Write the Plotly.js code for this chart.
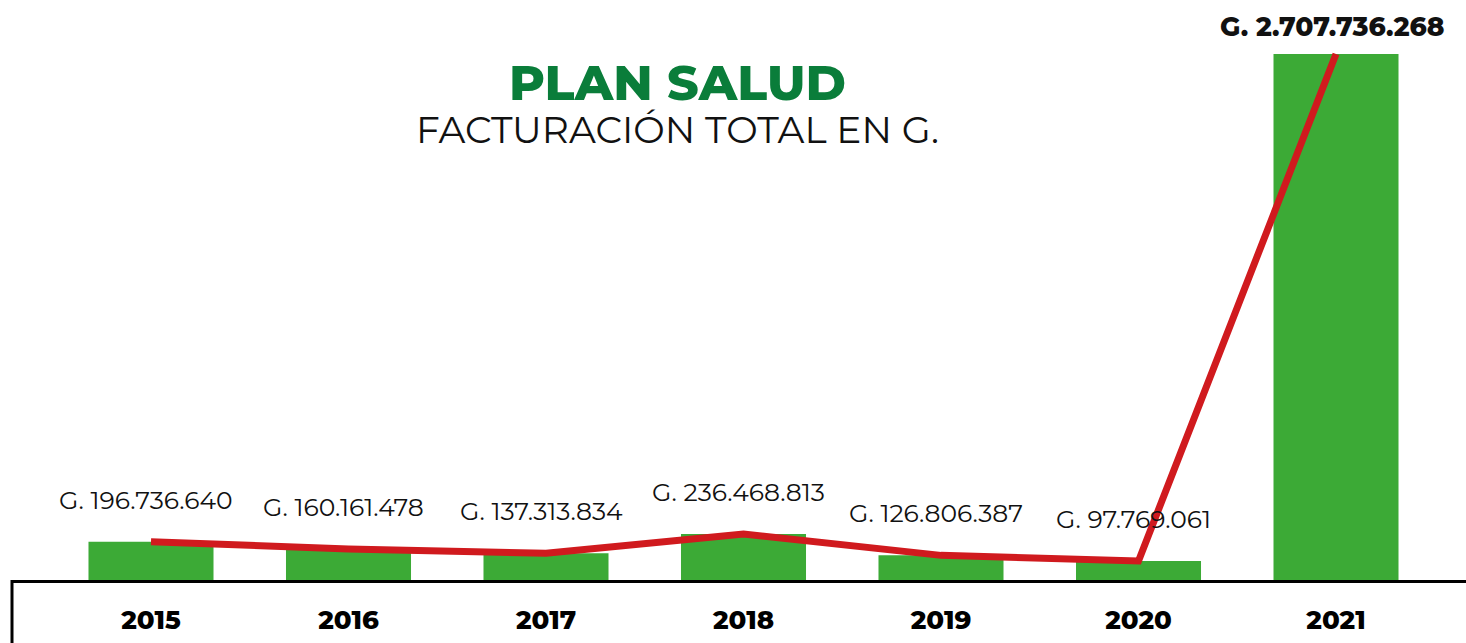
<!DOCTYPE html>
<html>
<head>
<meta charset="utf-8">
<script src="https://cdn.plot.ly/plotly-3.0.1.min.js"></script>
<style>html,body{margin:0;padding:0;background:#fff;}#chart{width:1466px;height:643px;}</style>
</head>
<body>
<div id="chart"></div>
<script>
const years = ["2015", "2016", "2017", "2018", "2019", "2020", "2021"];
const facturacion = [196736640, 160161478, 137313834, 236468813, 126806387, 97769061, 2707736268];
const labels = ["G. 196.736.640", "G. 160.161.478", "G. 137.313.834", "G. 236.468.813", "G. 126.806.387", "G. 97.769.061", "G. 2.707.736.268"];
const titleText = "PLAN SALUD";
const subtitleText = "FACTURACIÓN TOTAL EN G.";

const FONT = "Montserrat, 'Noto Sans', sans-serif";
const maxV = Math.max(...facturacion);
const last = years.length - 1;

const bars = {
  type: "bar", x: years, y: facturacion,
  width: 0.633,
  marker: {color: "#3caa36"},
  hoverinfo: "skip"
};
const line = {
  type: "scatter", mode: "lines", x: years, y: facturacion,
  line: {color: "#d01a1e", width: 7},
  hoverinfo: "skip"
};

const annotations = labels.map((t, i) => ({
  x: i, y: facturacion[i], xref: "x", yref: "y",
  text: t,
  showarrow: false, xanchor: "center", yanchor: "middle",
  xshift: i === last ? -4 : -5,
  yshift: i === last ? 28 : 42,
  font: {family: FONT, size: i === last ? 26.5 : 25, color: "#111", weight: i === last ? 800 : 400}
}));
annotations.push({
  xref: "paper", yref: "paper", x: 0.4577, y: 0.858,
  text: titleText, showarrow: false,
  xanchor: "center", yanchor: "middle",
  font: {family: FONT, size: 49, color: "#0a7d3a", weight: 800}
});
annotations.push({
  xref: "paper", yref: "paper", x: 0.4577, y: 0.776,
  text: subtitleText, showarrow: false,
  xanchor: "center", yanchor: "middle",
  font: {family: FONT, size: 37.5, color: "#111"}
});

const layout = {
  width: 1466, height: 643,
  margin: {l: 12, r: 0, t: 0, b: 63, pad: 0},
  paper_bgcolor: "#fff", plot_bgcolor: "#fff",
  showlegend: false,
  xaxis: {
    type: "category", range: [-0.7038, 6.6582],
    showline: true, linecolor: "#000", linewidth: 3,
    showgrid: false, zeroline: false, ticks: "",
    ticklabelstandoff: 15,
    tickfont: {family: FONT, size: 26, color: "#000", weight: 800}
  },
  yaxis: {
    range: [0, maxV * 580 / 526], visible: false, showgrid: false, zeroline: false
  },
  shapes: [{
    type: "line", xref: "paper", yref: "paper", x0: 0, x1: 0, y0: 0, y1: -0.2,
    line: {color: "#000", width: 3}
  }],
  annotations: annotations
};

Plotly.newPlot("chart", [bars, line], layout, {displayModeBar: false, staticPlot: true});
</script>
</body>
</html>
